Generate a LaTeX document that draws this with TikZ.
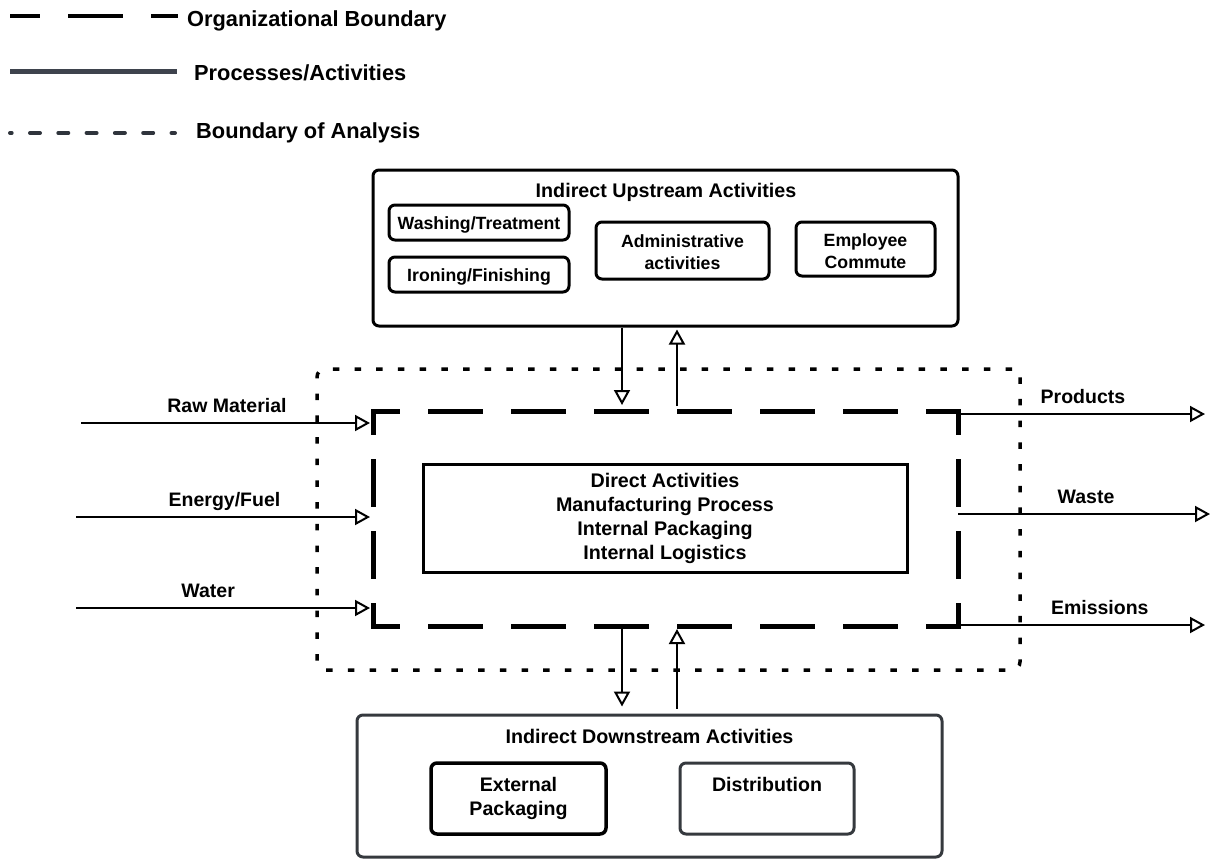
\documentclass[tikz,border=0pt]{standalone}
\usepackage{fontspec}
\setmainfont{Liberation Sans}
\usepackage{tikz}
\usetikzlibrary{arrows.meta}
\usepackage{xcolor}

\definecolor{slate}{HTML}{3E434D}
\definecolor{darkslate}{HTML}{2F343C}
\definecolor{boxgray}{HTML}{35393E}

\newcommand{\lowered}[1]{\raisebox{-2pt}[\height][\depth]{#1}}

\tikzset{
  legtext/.style={anchor=base west, inner sep=0pt, font=\fontsize{21.8}{26}\selectfont\bfseries},
  titletext/.style={anchor=base, inner sep=0pt, font=\fontsize{19.7}{24}\selectfont\bfseries},
  lbl/.style={anchor=base, inner sep=0pt, yshift=11pt, font=\fontsize{19.5}{24}\selectfont\bfseries},
  actbox/.style={draw, line width=3pt, rounded corners=6pt, inner sep=0pt},
  subbox/.style={draw, line width=3pt, rounded corners=6pt, inner sep=0pt, align=center,
    font=\fontsize{17.7}{22}\selectfont\bfseries},
  lowbox/.style={draw, line width=3pt, rounded corners=6pt, inner sep=0pt, align=center,
    minimum width=175pt, minimum height=71pt, font=\fontsize{19.6}{24}\selectfont\bfseries},
  procbox/.style={draw, line width=3pt, inner sep=0pt, align=center,
    minimum width=484pt, minimum height=108pt, font=\fontsize{19.7}{24}\selectfont\bfseries},
  orgbox/.style={inner sep=0pt, outer sep=0pt, minimum width=585pt, minimum height=215pt},
  orgh/.style={line width=5pt, line cap=rect, dash pattern=on 50pt off 33pt, dash phase=25.5pt},
  orgv/.style={line width=5pt, line cap=rect, dash pattern=on 43pt off 29pt, dash phase=21.5pt},
  scopebox/.style={draw, line width=3.5pt, rounded corners=8pt, dash pattern=on 6.5pt off 15.2pt,
    inner sep=0pt, minimum width=703pt, minimum height=301pt},
  flow/.style={-{Triangle[open, length=15pt, width=16pt]}, line width=2pt}
}

\begin{document}
\begin{tikzpicture}[x=1pt, y=-1pt]
\useasboundingbox (0,0) rectangle (1213,859);

% Legende
\node[legtext] (legorg) at (187,27) {Organizational Boundary};
\draw[line width=4pt, dash pattern=on 55pt off 28pt, dash phase=25pt] (10,16) -- (178,16);
\node[legtext] (legproc) at (194,81) {Processes/Activities};
\draw[slate, line width=5pt] (10,72) -- (177,72);
\node[legtext] (legscope) at (196,138) {Boundary of Analysis};
\draw[darkslate, line width=4pt, line cap=round, dash pattern=on 10pt off 18.3pt, dash phase=8.3pt] (10,133) -- (175,133);

% Boundary of analysis
\node[scopebox] (scope) at (668.5,519.5) {};

% Organizational boundary (each side on its own)
\node[orgbox] (org) at (665.5,518.5) {};
\draw[orgh] (org.north west) -- (org.north east);
\draw[orgh] (org.south west) -- (org.south east);
\draw[orgv] (org.north west) -- (org.south west);
\draw[orgv] (org.north east) -- (org.south east);

% Direct activities
\node[procbox] (direct) at (665,518) {Direct Activities\\Manufacturing Process\\Internal Packaging\\Internal Logistics};

% Upstream
\node[actbox, minimum width=585pt, minimum height=156pt] (up) at (665.5,248) {};
\node[titletext] (uptitle) at (666,197) {Indirect Upstream Activities};
\node[subbox, minimum width=180pt, minimum height=35pt] (wash) at (479,222.5) {\lowered{Washing/Treatment}};
\node[subbox, minimum width=180pt, minimum height=35pt] (iron) at (479,274.5) {\lowered{Ironing/Finishing}};
\node[subbox, minimum width=173pt, minimum height=57pt] (admin) at (682.5,250.5) {\lowered{Administrative}\\\lowered{activities}};
\node[subbox, minimum width=139pt, minimum height=54pt] (commute) at (865.5,249) {\lowered{Employee}\\\lowered{Commute}};

% Downstream
\node[actbox, draw=boxgray, minimum width=585pt, minimum height=142pt] (down) at (649.5,786) {};
\node[titletext] (downtitle) at (649.5,743) {Indirect Downstream Activities};
\node[lowbox, line width=3.5pt] (extpack) at (518.5,798.5) {External\\Packaging};
\node[lowbox, draw=boxgray, minimum width=174pt] (distrib) at (767,798.5) {Distribution\\\phantom{Packaging}};

% Echanges avec l'amont et l'aval
\draw[flow] ([xshift=-43.5pt]up.south) -- ([xshift=-43.5pt, yshift=6pt]org.north);
\draw[flow] ([xshift=11.5pt, yshift=5pt]org.north) -- ([xshift=11.5pt, yshift=-2pt]up.south);
\draw[flow] ([xshift=-43.5pt]org.south) -- ([xshift=-27.5pt, yshift=7pt]down.north);
\draw[flow] ([xshift=27.5pt, yshift=5pt]down.north) -- ([xshift=11.5pt, yshift=-3pt]org.south);

% Entrees
\coordinate (rawin) at (81,423);
\coordinate (fuelin) at (76,517);
\coordinate (waterin) at (76,608);
\draw[flow, shorten >=3pt] (rawin) -- (rawin -| org.west) node[lbl, pos=.5] {Raw Material};
\draw[flow, shorten >=3pt] (fuelin) -- (fuelin -| org.west) node[lbl, pos=.5] {Energy/Fuel};
\draw[flow, shorten >=3pt] (waterin) -- (waterin -| org.west) node[lbl, pos=.445] {Water};

% Sorties
\coordinate (prodout) at (1205,414);
\coordinate (wasteout) at (1210,514);
\coordinate (emisout) at (1205,625);
\draw[flow] (prodout -| org.east) -- (prodout) node[lbl, pos=.506] {Products};
\draw[flow] (wasteout -| org.east) -- (wasteout) node[lbl, pos=.508] {Waste};
\draw[flow] (emisout -| org.east) -- (emisout) node[lbl, pos=.574] {Emissions};
\end{tikzpicture}
\end{document}
